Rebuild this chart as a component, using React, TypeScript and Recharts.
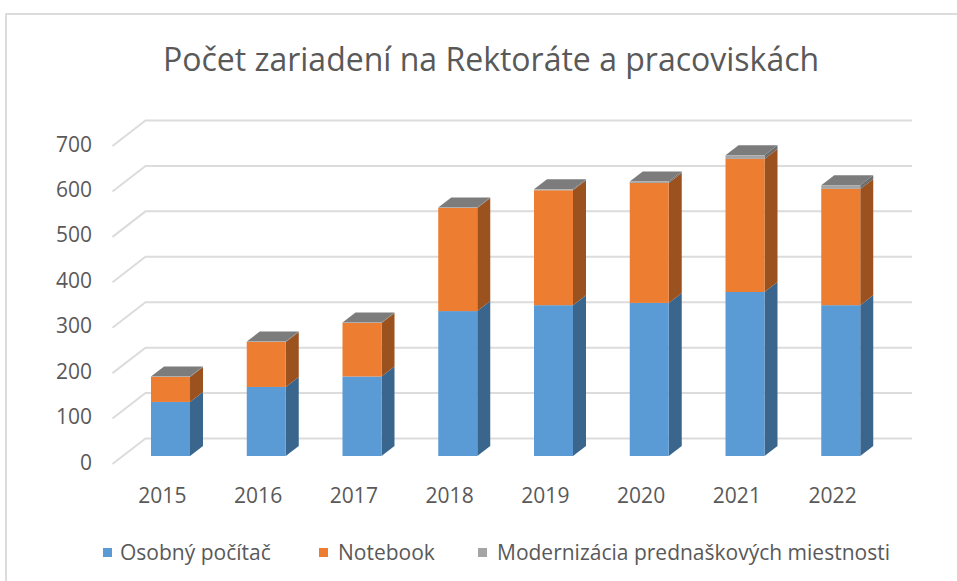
import { BarChart, Bar, XAxis, YAxis, CartesianGrid, Legend } from "recharts";

const years = ["2015", "2016", "2017", "2018", "2019", "2020", "2021", "2022"];
const osobnyPocitac = [119, 152, 175, 319, 332, 337, 361, 332];
const notebook = [55, 99, 118, 227, 253, 264, 293, 256];
const modernizacia = [1, 1, 1, 1, 2, 3, 8, 8];
const yTicks = [0, 100, 200, 300, 400, 500, 600, 700];

const chartData = years.map((year, i) => ({
  year,
  pc: osobnyPocitac[i],
  notebook: notebook[i],
  modern: modernizacia[i],
}));

const FONT = "'Open Sans', sans-serif";
const TEXT = "#595959";
const GRID = "#dcdcdc";

// bar depth of the fake 3D look
const DX = 13;
const DY = -10;

const makeBar = (sideColor: string, capColor?: string) => (props: any) => {
  const { x, y, width, height, fill } = props;
  const r = x + width;
  const b = y + height;
  return (
    <g>
      <path d={`M${r},${y} L${r + DX},${y + DY} L${r + DX},${b + DY} L${r},${b} Z`} fill={sideColor} />
      {capColor && (
        <path d={`M${x},${y} L${x + DX},${y + DY} L${r + DX},${y + DY} L${r},${y} Z`} fill={capColor} />
      )}
      <rect x={x} y={y} width={width} height={height} fill={fill} />
    </g>
  );
};

// back wall line plus the short diagonal on the side wall
const gridLine = (props: any) => {
  const { y1, x1, x2, key } = props;
  return (
    <path
      key={key}
      d={`M${x1 - 10.5},${y1 + 8} L${x1 + 22.5},${y1 - 17.5} L${x2 + 23},${y1 - 17.5}`}
      fill="none"
      stroke={GRID}
      strokeWidth={2}
    />
  );
};

const YTick = ({ y, payload }: any) => (
  <text x={92} y={y + 8} textAnchor="end" fontFamily={FONT} fontSize={21} fill={TEXT} dominantBaseline="middle">
    {payload.value}
  </text>
);

const XTick = ({ x, payload }: any) => (
  <text x={x - 8.5} y={497} textAnchor="middle" fontFamily={FONT} fontSize={21} fill={TEXT} dominantBaseline="middle">
    {payload.value}
  </text>
);

const legendSpots: Record<string, { box: number; text: number }> = {
  pc: { box: 103, text: 120 },
  notebook: { box: 319, text: 338 },
  modern: { box: 478, text: 497 },
};

const renderLegend = ({ payload }: any) => (
  <div>
    {(payload || []).map((entry: any) => (
      <div key={entry.value}>
        <span
          style={{
            position: "absolute",
            left: legendSpots[entry.dataKey].box,
            top: 548,
            width: 9,
            height: 9,
            background: entry.color,
          }}
        />
        <span
          style={{
            position: "absolute",
            left: legendSpots[entry.dataKey].text,
            top: 538,
            fontFamily: FONT,
            fontSize: 21,
            lineHeight: "28px",
            color: TEXT,
            whiteSpace: "nowrap",
          }}
        >
          {entry.value}
        </span>
      </div>
    ))}
  </div>
);

export default function App() {
  return (
    <div style={{ position: "fixed", left: 0, top: 0, width: 957, height: 581, overflow: "hidden", background: "#fff" }}>
      <div
        style={{
          position: "absolute",
          left: 5,
          top: 13,
          width: 960,
          height: 600,
          borderLeft: `2px solid ${GRID}`,
          borderTop: `2px solid ${GRID}`,
        }}
      />
      <div
        style={{
          position: "absolute",
          left: 0,
          top: 37,
          width: 982,
          textAlign: "center",
          fontFamily: FONT,
          fontSize: 32,
          lineHeight: "44px",
          color: TEXT,
          whiteSpace: "nowrap",
        }}
      >
        Počet zariadení na Rektoráte a pracoviskách
      </div>
      <BarChart
        width={957}
        height={581}
        data={chartData}
        margin={{ top: 138, right: 68, bottom: 85, left: 0 }}
        barSize={39}
        style={{ position: "absolute", left: 0, top: 0 }}
      >
        <CartesianGrid vertical={false} horizontal={gridLine} />
        <XAxis dataKey="year" axisLine={false} tickLine={false} height={40} tick={XTick} />
        <YAxis domain={[0, 700]} ticks={yTicks} width={123} axisLine={false} tickLine={false} tick={YTick} />
        <Legend content={renderLegend} wrapperStyle={{ left: 0, top: 0, width: 957, height: 0 }} />
        <Bar dataKey="pc" name="Osobný počítač" stackId="a" fill="#5b9bd5" shape={makeBar("#3a668d")} isAnimationActive={false} />
        <Bar dataKey="notebook" name="Notebook" stackId="a" fill="#ed7d31" shape={makeBar("#9c521f")} isAnimationActive={false} />
        <Bar
          dataKey="modern"
          name="Modernizácia prednaškových miestnosti"
          stackId="a"
          fill="#a5a5a5"
          shape={makeBar("#6d6d6d", "#7c7c7c")}
          isAnimationActive={false}
        />
      </BarChart>
    </div>
  );
}
